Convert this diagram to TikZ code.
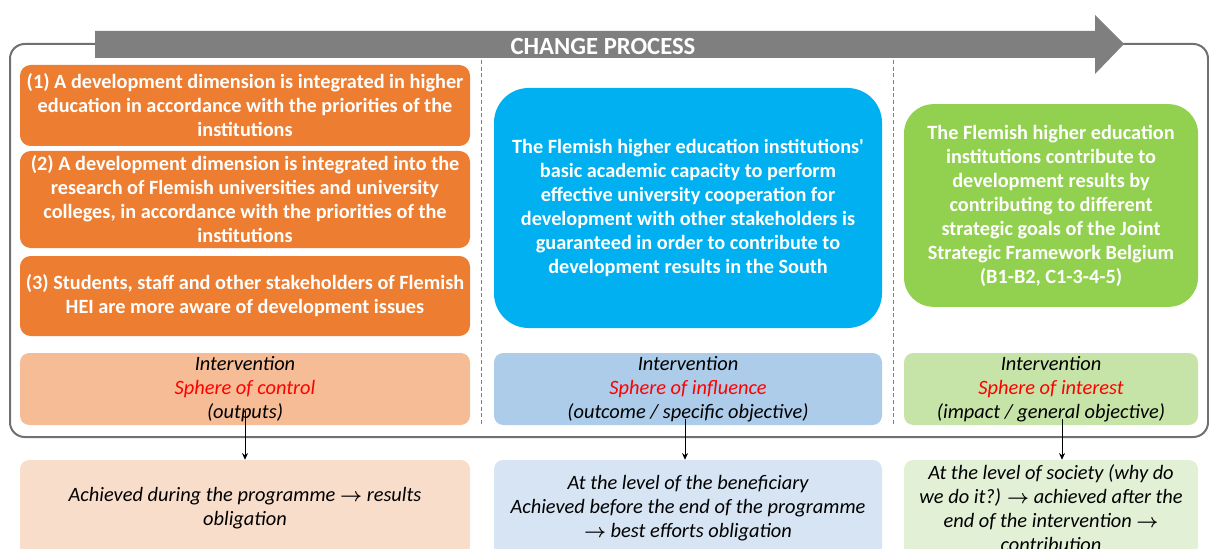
\documentclass[tikz,border=0pt]{standalone}
\usepackage{fontspec}
\setmainfont{Carlito}
\usepackage{amsmath, amssymb}
\usepackage{tikz}
\usetikzlibrary{arrows.meta}
\usepackage{xcolor}

\definecolor{cporange}{RGB}{237,125,49}
\definecolor{cpblue}{RGB}{0,176,240}
\definecolor{cpgreen}{RGB}{146,208,80}
\definecolor{cporangemid}{RGB}{245,188,150}
\definecolor{cpbluemid}{RGB}{172,204,234}
\definecolor{cpgreenmid}{RGB}{199,228,168}
\definecolor{cporangelight}{RGB}{249,221,203}
\definecolor{cpbluelight}{RGB}{214,228,243}
\definecolor{cpgreenlight}{RGB}{226,240,214}
\definecolor{cpgrey}{RGB}{127,127,127}
\definecolor{cpframe}{RGB}{112,112,112}
\definecolor{cpred}{RGB}{255,0,0}

\newcommand{\goalfont}{\fontsize{15.2}{18}\selectfont\bfseries}
\newcommand{\notefont}{\fontsize{15.3}{18}\selectfont\itshape}
\newcommand{\then}{$\boldsymbol{\rightarrow}$}

\tikzset{
  goalbox/.style={rectangle, rounded corners=8pt, fill=#1, text=white,
                  font=\goalfont, align=center, inner sep=0pt},
  spherebox/.style={rectangle, rounded corners=7pt, fill=#1, text=black,
                    font=\notefont, align=center, inner sep=0pt,
                    minimum height=54pt},
  resultbox/.style={spherebox=#1, minimum height=72pt},
  flow/.style={-{Stealth[length=5pt, width=4.5pt]}, semithick, black},
  divider/.style={densely dashed, cpgrey, thin},
}

\begin{document}
\begin{tikzpicture}[x=0.75pt, y=-0.75pt]
  \path[use as bounding box, fill=white] (0,0) rectangle (1209,549);
  % outer frame, drawn below the process arrow
  \draw[cpframe, line width=1.5pt, rounded corners=11pt] (10,44) rectangle (1208,437);
  % change process arrow
  \fill[cpgrey] (95,31) -- (1095,31) -- (1095,15) -- (1124,44) -- (1095,74)
    -- (1095,58) -- (95,58) -- cycle;
  \node[text=white, font=\fontsize{18.5}{20}\selectfont\bfseries] (title) at (603,46) {CHANGE PROCESS};
  % column separators
  \draw[divider] (481,60) -- (481,424);
  \draw[divider] (893,60) -- (893,424);

  % outputs
  \node[goalbox=cporange, minimum width=337.5pt, minimum height=60.75pt] (out1) at (245,105.5)
    {(1) A development dimension is integrated in higher\\education in accordance with the priorities of the\\institutions};
  \node[goalbox=cporange, minimum width=337.5pt, minimum height=72.75pt] (out2) at (245,199.5)
    {(2) A development dimension is integrated into the\\research of Flemish universities and university\\colleges, in accordance with the priorities of the\\institutions};
  \node[goalbox=cporange, minimum width=337.5pt, minimum height=60pt] (out3) at (245,296)
    {(3) Students, staff and other stakeholders of Flemish\\HEI are more aware of development issues};
  % outcome
  \node[goalbox=cpblue, rounded corners=26pt, minimum width=291pt, minimum height=180pt] (outcome) at (688,208)
    {The Flemish higher education institutions\textquotesingle\\basic academic capacity to perform\\effective university cooperation for\\development with other stakeholders is\\guaranteed in order to contribute to\\development results in the South};
  % impact
  \node[goalbox=cpgreen, rounded corners=22pt, minimum width=220.5pt, minimum height=152pt] (impact) at (1051,205.5)
    {The Flemish higher education\\institutions contribute to\\development results by\\contributing to different\\strategic goals of the Joint\\Strategic Framework Belgium\\(B1-B2, C1-3-4-5)};

  % spheres
  \node[spherebox=cporangemid, minimum width=337.5pt] (control) at (245,389)
    {Intervention\\\textcolor{cpred}{Sphere of control}\\(outputs)};
  \node[spherebox=cpbluemid, minimum width=291pt] (influence) at (688,389)
    {Intervention\\\textcolor{cpred}{Sphere of influence}\\(outcome / specific objective)};
  \node[spherebox=cpgreenmid, minimum width=220.5pt] (interest) at (1051,389)
    {Intervention\\\textcolor{cpred}{Sphere of interest}\\(impact / general objective)};

  % what is achieved
  \node[resultbox=cporangelight, minimum width=337.5pt] (ctrlres) at (245,508)
    {Achieved during the programme \then{} results\\obligation};
  \node[resultbox=cpbluelight, minimum width=291pt] (inflres) at (688,508)
    {At the level of the beneficiary\\Achieved before the end of the programme\\\then{} best efforts obligation};
  \node[resultbox=cpgreenlight, minimum width=220.5pt] (intres) at (1051,508)
    {At the level of society (why do\\we do it?) \then{} achieved after the\\end of the intervention \then\\contribution};

  \draw[flow] ([yshift=11pt]control.south) -- (control.south |- ctrlres.north);
  \draw[flow] ([xshift=-2.25pt, yshift=5pt]influence.south) -- ([xshift=-2.25pt]inflres.north);
  \draw[flow] ([xshift=8.25pt, yshift=5pt]interest.south) -- ([xshift=8.25pt]intres.north);
\end{tikzpicture}
\end{document}
